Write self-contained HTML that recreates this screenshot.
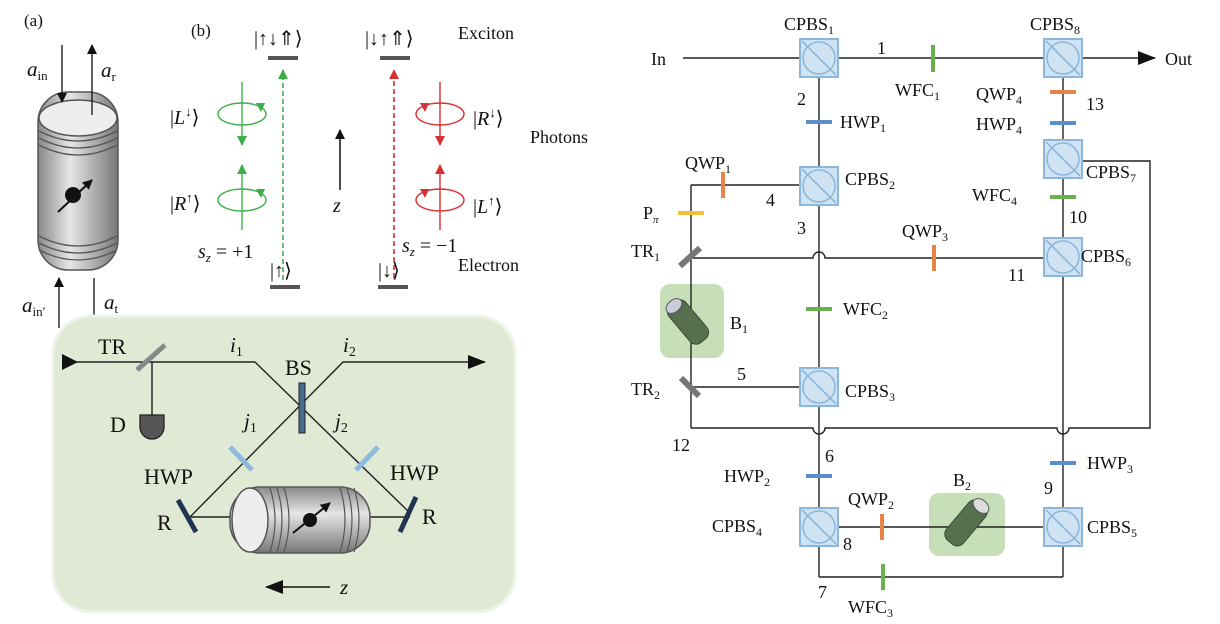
<!DOCTYPE html>
<html><head><meta charset="utf-8"><style>
html,body{margin:0;padding:0;background:#fff}
svg{display:block}
text{font-family:"Liberation Serif",serif;fill:#111}
.i{font-style:italic}
</style></head><body>
<svg width="1220" height="624" viewBox="0 0 1220 624" xmlns="http://www.w3.org/2000/svg">
<defs>
<marker id="ab" markerWidth="10" markerHeight="10" refX="9" refY="5" orient="auto" markerUnits="userSpaceOnUse"><path d="M0,0 L10,5 L0,10z" fill="#111"/></marker>
<marker id="ag" markerWidth="10" markerHeight="10" refX="9" refY="5" orient="auto" markerUnits="userSpaceOnUse"><path d="M0,0 L10,5 L0,10z" fill="#3bb04a"/></marker>
<marker id="ar" markerWidth="10" markerHeight="10" refX="9" refY="5" orient="auto" markerUnits="userSpaceOnUse"><path d="M0,0 L10,5 L0,10z" fill="#d83030"/></marker>
<marker id="abig" markerWidth="18" markerHeight="14" refX="17" refY="7" orient="auto" markerUnits="userSpaceOnUse"><path d="M0,0 L18,7 L0,14z" fill="#111"/></marker>
<linearGradient id="cyl" x1="0" x2="1" y1="0" y2="0"><stop offset="0" stop-color="#888"/><stop offset="0.4" stop-color="#e6e6e6"/><stop offset="1" stop-color="#777"/></linearGradient>
<linearGradient id="cylh" x1="0" x2="0" y1="0" y2="1"><stop offset="0" stop-color="#888"/><stop offset="0.4" stop-color="#e6e6e6"/><stop offset="1" stop-color="#777"/></linearGradient>
<g id="cpbs"><rect x="-19" y="-19" width="38" height="38" fill="#cfe3f3" stroke="#8bb7dc" stroke-width="2"/><circle r="16" fill="none" stroke="#8bb7dc" stroke-width="1.6"/><line x1="-17" y1="-17" x2="17" y2="17" stroke="#8bb7dc" stroke-width="1.6"/></g>
</defs>

<!-- Panel (a) -->
<text x="24" y="26" font-size="17">(a)</text>
<rect x="38" y="92" width="80" height="178" rx="30" fill="url(#cyl)" stroke="#555" stroke-width="1.5"/>
<ellipse cx="78" cy="118" rx="39" ry="18" fill="#eee" stroke="#555" stroke-width="1.5"/>
<path d="M39,131 Q78,151 117,131 M39,138 Q78,158 117,138 M39,145 Q78,165 117,145 M39,236 Q78,256 117,236 M39,243 Q78,263 117,243 M39,250 Q78,270 117,250" fill="none" stroke="#555" stroke-width="1.3"/>
<circle cx="73" cy="195" r="8" fill="#111"/>
<line x1="58" y1="212" x2="92" y2="180" stroke="#111" stroke-width="2" marker-end="url(#ab)"/>
<line x1="62" y1="45" x2="62" y2="102" stroke="#111" stroke-width="1.3" marker-end="url(#ab)"/>
<line x1="92" y1="115" x2="92" y2="45" stroke="#111" stroke-width="1.3" marker-end="url(#ab)"/>
<line x1="59" y1="328" x2="59" y2="278" stroke="#111" stroke-width="1.3" marker-end="url(#ab)"/>
<line x1="94" y1="278" x2="94" y2="328" stroke="#111" stroke-width="1.3" marker-end="url(#ab)"/>
<text x="27" y="76" font-size="21" class="i">a<tspan font-size="13" font-style="normal" dy="4">in</tspan></text>
<text x="101" y="77" font-size="21" class="i">a<tspan font-size="13" font-style="normal" dy="4">r</tspan></text>
<text x="22" y="312" font-size="21" class="i">a<tspan font-size="13" font-style="normal" dy="4">in′</tspan></text>
<text x="104" y="309" font-size="21" class="i">a<tspan font-size="13" font-style="normal" dy="4">t</tspan></text>

<!-- Panel (b) -->
<text x="191" y="36" font-size="17">(b)</text>
<text x="254" y="45" font-size="20">|↑↓⇑⟩</text>
<text x="365" y="45" font-size="20">|↓↑⇑⟩</text>
<text x="458" y="39" font-size="18">Exciton</text>
<text x="530" y="143" font-size="18">Photons</text>
<text x="458" y="271" font-size="18">Electron</text>
<rect x="268" y="56" width="30" height="4" fill="#555"/>
<rect x="380" y="56" width="30" height="4" fill="#555"/>
<rect x="270" y="285" width="30" height="4" fill="#555"/>
<rect x="378" y="285" width="30" height="4" fill="#555"/>
<line x1="283" y1="280" x2="283" y2="70" stroke="#3bb04a" stroke-width="1.6" stroke-dasharray="5,3" marker-end="url(#ag)"/>
<line x1="394" y1="278" x2="394" y2="70" stroke="#d83030" stroke-width="1.6" stroke-dasharray="5,3" marker-end="url(#ar)"/>
<g stroke="#3bb04a" stroke-width="1.4" fill="none">
<line x1="242" y1="82" x2="242" y2="145" marker-end="url(#ag)"/>
<ellipse cx="242" cy="114" rx="24" ry="11"/>
<line x1="242" y1="230" x2="242" y2="165" marker-end="url(#ag)"/>
<ellipse cx="242" cy="200" rx="24" ry="11"/>
</g>
<path d="M256,103 l9,0 l-4,9z M256,189 l9,0 l-4,9z" fill="#3bb04a"/>
<g stroke="#d83030" stroke-width="1.4" fill="none">
<line x1="440" y1="82" x2="440" y2="145" marker-end="url(#ar)"/>
<ellipse cx="440" cy="114" rx="24" ry="11"/>
<line x1="440" y1="230" x2="440" y2="165" marker-end="url(#ar)"/>
<ellipse cx="440" cy="200" rx="24" ry="11"/>
</g>
<path d="M420,103 l9,0 l-4,9z M420,189 l9,0 l-4,9z" fill="#d83030"/>
<text x="170" y="124" font-size="20">|<tspan class="i">L</tspan><tspan font-size="13" dy="-8">↓</tspan><tspan dy="8">⟩</tspan></text>
<text x="170" y="210" font-size="20">|<tspan class="i">R</tspan><tspan font-size="13" dy="-8">↑</tspan><tspan dy="8">⟩</tspan></text>
<text x="473" y="125" font-size="20">|<tspan class="i">R</tspan><tspan font-size="13" dy="-8">↓</tspan><tspan dy="8">⟩</tspan></text>
<text x="473" y="213" font-size="20">|<tspan class="i">L</tspan><tspan font-size="13" dy="-8">↑</tspan><tspan dy="8">⟩</tspan></text>
<line x1="340" y1="190" x2="340" y2="130" stroke="#111" stroke-width="1.5" marker-end="url(#ab)"/>
<text x="333" y="212" font-size="20" class="i">z</text>
<text x="198" y="258" font-size="20"><tspan class="i">s</tspan><tspan font-size="13" class="i" dy="4">z</tspan><tspan dy="-4"> = +1</tspan></text>
<text x="402" y="252" font-size="20"><tspan class="i">s</tspan><tspan font-size="13" class="i" dy="4">z</tspan><tspan dy="-4"> = −1</tspan></text>
<text x="270" y="277" font-size="20">|↑⟩</text>
<text x="378" y="277" font-size="20">|↓⟩</text>

<!-- Bottom panel -->
<rect x="53" y="316" width="462" height="296" rx="38" fill="#dfe9d3" stroke="#eef3e8" stroke-width="3"/>
<g stroke="#222" stroke-width="1.4" fill="none">
<line x1="67" y1="362" x2="255" y2="362"/>
<polyline points="255,362 410,513"/>
<polyline points="190,517 343,362 485,362" marker-end="url(#abig)"/>
<line x1="152" y1="362" x2="152" y2="415"/>
<line x1="190" y1="517" x2="410" y2="517"/>
</g>
<path d="M62,354 l16,8 l-16,8z" fill="#111"/>
<line x1="137" y1="370" x2="165" y2="345" stroke="#888" stroke-width="5"/>
<path d="M140,415 h24 v12 a12,12 0 0 1 -24,0z" fill="#555" stroke="#222" stroke-width="1.3"/>
<rect x="299" y="383" width="6" height="50" fill="#4a6f8c" stroke="#223" stroke-width="1"/>
<line x1="230" y1="447" x2="252" y2="470" stroke="#8fb8df" stroke-width="5"/>
<line x1="356" y1="470" x2="378" y2="447" stroke="#8fb8df" stroke-width="5"/>
<line x1="178" y1="500" x2="196" y2="532" stroke="#1f3550" stroke-width="5"/>
<line x1="416" y1="497" x2="400" y2="532" stroke="#1f3550" stroke-width="5"/>
<rect x="230" y="487" width="140" height="66" rx="30" fill="url(#cylh)" stroke="#555" stroke-width="1.5"/>
<ellipse cx="250" cy="520" rx="18" ry="32" fill="#eee" stroke="#555" stroke-width="1.5"/>
<path d="M270,488 q10,32 0,64 M277,488 q10,32 0,64 M284,488 q10,32 0,64 M340,488 q10,32 0,64 M347,488 q10,32 0,64 M354,488 q10,32 0,64" fill="none" stroke="#555" stroke-width="1.2"/>
<circle cx="310" cy="520" r="7" fill="#111"/>
<line x1="293" y1="533" x2="330" y2="503" stroke="#111" stroke-width="2" marker-end="url(#ab)"/>
<line x1="330" y1="587" x2="266" y2="587" stroke="#111" stroke-width="1.5" marker-end="url(#abig)"/>
<text x="340" y="594" font-size="21" class="i">z</text>
<text x="98" y="354" font-size="22">TR</text>
<text x="230" y="352" font-size="21" class="i">i<tspan font-size="14" font-style="normal" dy="4">1</tspan></text>
<text x="343" y="352" font-size="21" class="i">i<tspan font-size="14" font-style="normal" dy="4">2</tspan></text>
<text x="285" y="375" font-size="22">BS</text>
<text x="110" y="432" font-size="22">D</text>
<text x="244" y="428" font-size="21" class="i">j<tspan font-size="14" font-style="normal" dy="4">1</tspan></text>
<text x="335" y="428" font-size="21" class="i">j<tspan font-size="14" font-style="normal" dy="4">2</tspan></text>
<text x="144" y="484" font-size="22">HWP</text>
<text x="390" y="480" font-size="22">HWP</text>
<text x="157" y="530" font-size="22">R</text>
<text x="422" y="524" font-size="22">R</text>

<!-- Right network -->
<g stroke="#222" stroke-width="1.4" fill="none">
<line x1="683" y1="58" x2="1155" y2="58" marker-end="url(#abig)"/>
<line x1="819" y1="58" x2="819" y2="577"/>
<line x1="1063" y1="58" x2="1063" y2="577"/>
<line x1="691" y1="185" x2="819" y2="185"/>
<line x1="691" y1="185" x2="691" y2="428"/>
<path d="M691,428 H813 a6,6 0 0 0 12,0 H1057 a6,6 0 0 0 12,0 H1150 V161 H1063"/>
<path d="M691,258 H813 a6,6 0 0 1 12,0 H1063"/>
<line x1="691" y1="387" x2="819" y2="387"/>
<line x1="819" y1="527" x2="1063" y2="527"/>
<line x1="819" y1="577" x2="1063" y2="577"/>
</g>
<use href="#cpbs" x="819" y="58"/>
<use href="#cpbs" x="1063" y="58"/>
<use href="#cpbs" x="819" y="186"/>
<use href="#cpbs" x="819" y="387"/>
<use href="#cpbs" x="1063" y="159"/>
<use href="#cpbs" x="1063" y="257"/>
<use href="#cpbs" x="819" y="527"/>
<use href="#cpbs" x="1063" y="527"/>
<!-- plates -->
<g stroke-width="4">
<line x1="933" y1="45" x2="933" y2="72" stroke="#6ab04c"/>
<line x1="806" y1="122" x2="832" y2="122" stroke="#5b8fc9"/>
<line x1="1050" y1="92" x2="1076" y2="92" stroke="#e8844a"/>
<line x1="1050" y1="123" x2="1076" y2="123" stroke="#5b8fc9"/>
<line x1="1050" y1="197" x2="1076" y2="197" stroke="#6ab04c"/>
<line x1="723" y1="172" x2="723" y2="198" stroke="#e8844a"/>
<line x1="678" y1="213" x2="704" y2="213" stroke="#f2c03a"/>
<line x1="934" y1="245" x2="934" y2="271" stroke="#e8844a"/>
<line x1="806" y1="309" x2="832" y2="309" stroke="#6ab04c"/>
<line x1="806" y1="476" x2="832" y2="476" stroke="#5b8fc9"/>
<line x1="1050" y1="463" x2="1076" y2="463" stroke="#5b8fc9"/>
<line x1="882" y1="514" x2="882" y2="540" stroke="#e8844a"/>
<line x1="883" y1="564" x2="883" y2="590" stroke="#6ab04c"/>
<line x1="680" y1="266" x2="700" y2="248" stroke="#777" stroke-width="6"/>
<line x1="681" y1="378" x2="699" y2="396" stroke="#777" stroke-width="6"/>
</g>
<rect x="660" y="284" width="64" height="74" rx="10" fill="#c6dfb8"/>
<line x1="691" y1="284" x2="691" y2="358" stroke="#222" stroke-width="1.4"/>
<rect x="677" y="298" width="22" height="48" rx="8" fill="#56704f" stroke="#3a4d37" transform="rotate(-40 688 322)"/>
<ellipse cx="674" cy="306" rx="9" ry="6" fill="#ccd" stroke="#555" transform="rotate(-40 674 306)"/>
<rect x="929" y="493" width="76" height="63" rx="10" fill="#c6dfb8"/>
<line x1="929" y1="527" x2="1005" y2="527" stroke="#222" stroke-width="1.4"/>
<rect x="955" y="498" width="22" height="50" rx="8" fill="#56704f" stroke="#3a4d37" transform="rotate(40 966 523)"/>
<ellipse cx="981" cy="506" rx="9" ry="6" fill="#ddd" stroke="#555" transform="rotate(40 981 506)"/>
<g font-size="18">
<text x="651" y="65">In</text>
<text x="1165" y="65">Out</text>
<text x="784" y="30">CPBS<tspan font-size="12" dy="4">1</tspan></text>
<text x="1030" y="30">CPBS<tspan font-size="12" dy="4">8</tspan></text>
<text x="877" y="54">1</text>
<text x="895" y="96">WFC<tspan font-size="12" dy="4">1</tspan></text>
<text x="976" y="100">QWP<tspan font-size="12" dy="4">4</tspan></text>
<text x="1086" y="110">13</text>
<text x="976" y="130">HWP<tspan font-size="12" dy="4">4</tspan></text>
<text x="797" y="105">2</text>
<text x="840" y="128">HWP<tspan font-size="12" dy="4">1</tspan></text>
<text x="685" y="169">QWP<tspan font-size="12" dy="4">1</tspan></text>
<text x="845" y="185">CPBS<tspan font-size="12" dy="4">2</tspan></text>
<text x="766" y="206">4</text>
<text x="1086" y="178">CPBS<tspan font-size="12" dy="4">7</tspan></text>
<text x="972" y="201">WFC<tspan font-size="12" dy="4">4</tspan></text>
<text x="1069" y="223">10</text>
<text x="643" y="219">P<tspan font-size="11" class="i" dy="4">π</tspan></text>
<text x="797" y="234">3</text>
<text x="902" y="237">QWP<tspan font-size="12" dy="4">3</tspan></text>
<text x="631" y="257">TR<tspan font-size="12" dy="4">1</tspan></text>
<text x="1081" y="262">CPBS<tspan font-size="12" dy="4">6</tspan></text>
<text x="1008" y="281">11</text>
<text x="843" y="315">WFC<tspan font-size="12" dy="4">2</tspan></text>
<text x="730" y="329">B<tspan font-size="12" dy="4">1</tspan></text>
<text x="737" y="380">5</text>
<text x="631" y="395">TR<tspan font-size="12" dy="4">2</tspan></text>
<text x="845" y="397">CPBS<tspan font-size="12" dy="4">3</tspan></text>
<text x="672" y="451">12</text>
<text x="825" y="462">6</text>
<text x="724" y="482">HWP<tspan font-size="12" dy="4">2</tspan></text>
<text x="1087" y="469">HWP<tspan font-size="12" dy="4">3</tspan></text>
<text x="953" y="486">B<tspan font-size="12" dy="4">2</tspan></text>
<text x="1044" y="494">9</text>
<text x="848" y="505">QWP<tspan font-size="12" dy="4">2</tspan></text>
<text x="712" y="532">CPBS<tspan font-size="12" dy="4">4</tspan></text>
<text x="1087" y="533">CPBS<tspan font-size="12" dy="4">5</tspan></text>
<text x="843" y="550">8</text>
<text x="818" y="598">7</text>
<text x="848" y="613">WFC<tspan font-size="12" dy="4">3</tspan></text>
</g>
</svg>
</body></html>
